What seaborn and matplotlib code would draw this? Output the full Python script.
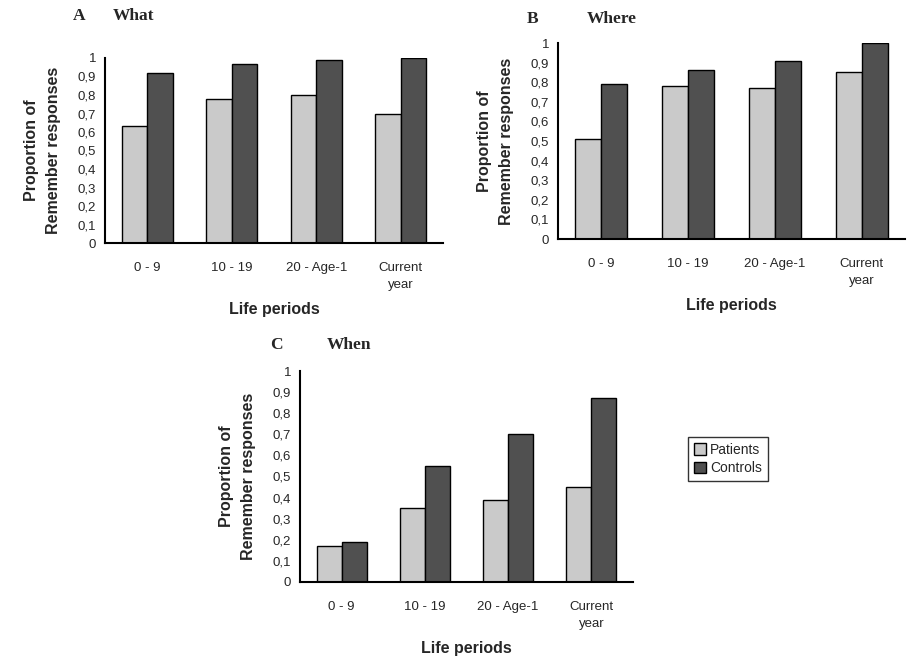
import matplotlib
matplotlib.use("Agg")
import matplotlib.pyplot as plt
import seaborn as sns
import pandas as pd
import numpy as np

categories = ["0 - 9", "10 - 19", "20 - Age-1", "Current\nyear"]
groups = ["Patients", "Controls"]

what_patients = [0.63, 0.78, 0.80, 0.70]
what_controls = [0.92, 0.97, 0.99, 1.00]
where_patients = [0.51, 0.78, 0.77, 0.85]
where_controls = [0.79, 0.86, 0.91, 1.00]
when_patients = [0.17, 0.35, 0.39, 0.45]
when_controls = [0.19, 0.55, 0.70, 0.87]

y_ticks = [0, 0.1, 0.2, 0.3, 0.4, 0.5, 0.6, 0.7, 0.8, 0.9, 1]
y_tick_labels = ["0", "0,1", "0,2", "0,3", "0,4", "0,5", "0,6", "0,7", "0,8", "0,9", "1"]

panels = [
    ("A", "What", what_patients, what_controls),
    ("B", "Where", where_patients, where_controls),
    ("C", "When", when_patients, when_controls),
]

sns.set_theme(style="white")
plt.rcParams['font.family'] = ['Liberation Sans', 'DejaVu Sans']

palette = {"Patients": "#cacaca", "Controls": "#505050"}

fig = plt.figure(figsize=(9.07, 6.65), dpi=100)
W, H = 907, 665

def ax_rect(left, top, right, bottom):
    return [left / W, 1 - bottom / H, (right - left) / W, (bottom - top) / H]

rects = [
    ax_rect(105, 58, 443, 243),
    ax_rect(558, 43, 905, 239),
    ax_rect(300, 371, 633, 582),
]
title_pos = [
    ((73, 16), (113, 16)),
    ((527, 19), (587, 19)),
    ((270, 345), (327, 345)),
]

axes = []
for (letter, name, pat, con), rect, (lp, np_) in zip(panels, rects, title_pos):
    ax = fig.add_axes(rect)
    df = pd.DataFrame({
        "period": categories * 2,
        "group": ["Patients"] * 4 + ["Controls"] * 4,
        "value": pat + con,
    })
    sns.barplot(data=df, x="period", y="value", hue="group", order=categories,
                hue_order=groups, palette=palette, width=0.6, gap=0,
                edgecolor="black", linewidth=1.0, ax=ax, legend=(letter == "C"))
    ax.set_xlim(-0.5, 3.5)
    ax.set_ylim(0, 1.0)
    ax.set_yticks(y_ticks)
    ax.set_yticklabels(y_tick_labels, fontsize=9.5)
    ax.set_xticks([-0.5, 0.5, 1.5, 2.5, 3.5])
    ax.set_xticklabels([])
    ax.set_xticks(range(4), minor=True)
    ax.set_xticklabels(categories, minor=True, fontsize=9.5, va="top", linespacing=1.5)
    ax.tick_params(axis="x", which="minor", length=0, pad=14)
    ax.tick_params(axis="x", which="major", direction="inout", length=7, width=1.2, color="black")
    ax.tick_params(axis="y", direction="inout", length=7, width=1.2, color="black", pad=3)
    for s in ["top", "right"]:
        ax.spines[s].set_visible(False)
    for s in ["left", "bottom"]:
        ax.spines[s].set_color("black")
        ax.spines[s].set_linewidth(1.5)
    ax.set_xlabel("Life periods", fontsize=11.5, fontweight="bold", labelpad=8)
    ax.set_ylabel("Proportion of\nRemember responses", fontsize=11.5, fontweight="bold",
                  labelpad=12, linespacing=1.6)
    ax.grid(False)
    fig.text(lp[0] / W, 1 - lp[1] / H, letter, family=["Liberation Serif", "DejaVu Serif"],
             fontweight="bold", fontsize=12.5, va="center", ha="left")
    fig.text(np_[0] / W, 1 - np_[1] / H, name, family=["Liberation Serif", "DejaVu Serif"],
             fontweight="bold", fontsize=12.5, va="center", ha="left")
    axes.append(ax)

axC = axes[2]
handles, labels = axC.get_legend_handles_labels()
axC.get_legend().remove()
leg = fig.legend(handles, labels, loc="center left", bbox_to_anchor=(681 / W, 1 - 459 / H),
                 frameon=True, fancybox=False, edgecolor="black", fontsize=10,
                 handlelength=0.9, handleheight=0.9, handletextpad=0.3,
                 borderpad=0.4, labelspacing=0.3)
leg.get_frame().set_linewidth(1.0)

fig.savefig("out.png", dpi=100)
